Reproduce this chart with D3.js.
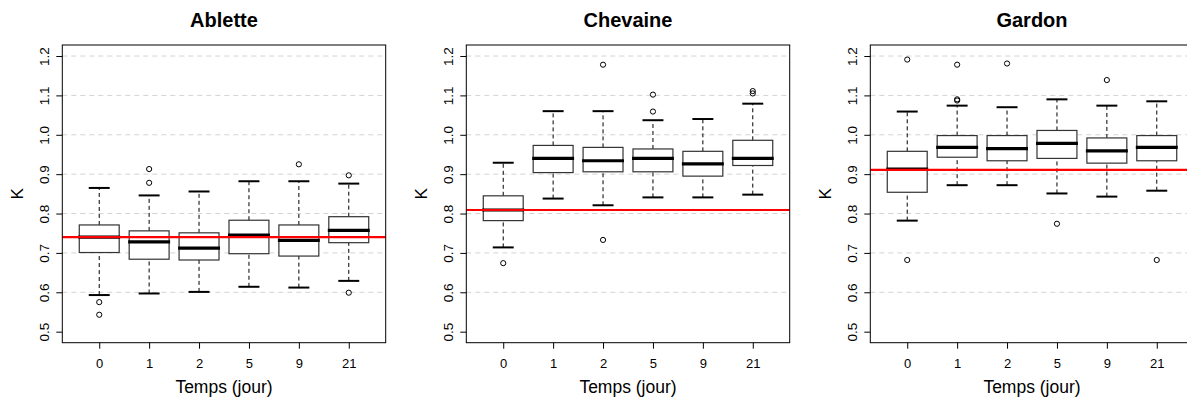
<!DOCTYPE html>
<html>
<head>
<meta charset="utf-8">
<script src="https://cdn.jsdelivr.net/npm/d3@7"></script>
<style>
  body { margin: 0; background: #fff; }
  svg { font-family: "Liberation Sans", Arial, sans-serif; }
</style>
</head>
<body>
<div id="chart"></div>
<script>
// days of sampling (x categories)
const days = ["0", "1", "2", "5", "9", "21"];
const species = ["Ablette", "Chevaine", "Gardon"];
const yTicks = [0.5, 0.6, 0.7, 0.8, 0.9, 1.0, 1.1, 1.2];
const gridTicks = [0.6, 0.7, 0.8, 0.9, 1.0, 1.1, 1.2];

// box stats per day: [lower whisker, Q1, median, Q3, upper whisker]
const ablette = [
    [0.593, 0.701, 0.740, 0.771, 0.865],
    [0.597, 0.684, 0.728, 0.756, 0.846],
    [0.601, 0.682, 0.712, 0.751, 0.856],
    [0.614, 0.698, 0.745, 0.783, 0.882],
    [0.612, 0.692, 0.732, 0.771, 0.882],
    [0.629, 0.726, 0.757, 0.792, 0.876]
];
const chevaine = [
    [0.714, 0.782, 0.809, 0.845, 0.929],
    [0.838, 0.904, 0.940, 0.973, 1.060],
    [0.821, 0.906, 0.934, 0.968, 1.060],
    [0.841, 0.906, 0.940, 0.964, 1.037],
    [0.841, 0.895, 0.926, 0.958, 1.040],
    [0.848, 0.922, 0.940, 0.986, 1.079]
];
const gardon = [
    [0.782, 0.854, 0.913, 0.958, 1.059],
    [0.872, 0.943, 0.968, 0.998, 1.074],
    [0.872, 0.934, 0.965, 0.998, 1.070],
    [0.851, 0.940, 0.978, 1.011, 1.090],
    [0.843, 0.928, 0.959, 0.992, 1.074],
    [0.858, 0.934, 0.968, 0.998, 1.085]
];

// outliers per day
const abletteOut = [[0.575, 0.543], [0.913, 0.878], [], [], [0.925], [0.897, 0.599]];
const chevaineOut = [[0.674], [], [1.178, 0.733], [1.102, 1.059], [], [1.111, 1.105]];
const gardonOut = [[1.191, 0.682], [1.178, 1.090, 1.087], [1.181], [0.774], [1.139], [0.682]];

// red reference line (K at day 0)
const refK = [0.740, 0.809, 0.911];

const stats = [ablette, chevaine, gardon];
const outliers = [abletteOut, chevaineOut, gardonOut];

const width = 1187, height = 399;
const panelStep = 404;
const plotW = 323.4, plotTop = 45, plotBottom = 342.7;

const svg = d3.select("#chart").append("svg")
    .attr("width", width)
    .attr("height", height);

const y = d3.scaleLinear().domain([0.472, 1.228]).range([plotBottom, plotTop]);

species.forEach((name, i) => {
    const left = 62.3 + panelStep * i;
    const x = d3.scalePoint().domain(days).range([left, left + plotW]).padding(0.74);
    const step = x.step();
    const bw = step * 0.8;
    const cw = step * 0.42;

    const g = svg.append("g");

    // dashed grid
    g.selectAll("line.grid")
        .data(gridTicks)
        .join("line")
        .attr("class", "grid")
        .attr("x1", left).attr("x2", left + plotW)
        .attr("y1", d => y(d)).attr("y2", d => y(d))
        .attr("stroke", "#d3d3d3")
        .attr("stroke-dasharray", "5,4");

    const rows = stats[i].map((s, j) => ({ day: days[j], s: s, out: outliers[i][j] }));
    const box = g.selectAll("g.box").data(rows).join("g").attr("class", "box");

    // whiskers
    box.append("line")
        .attr("x1", d => x(d.day)).attr("x2", d => x(d.day))
        .attr("y1", d => y(d.s[0])).attr("y2", d => y(d.s[1]))
        .attr("stroke", "#000").attr("stroke-dasharray", "4,3");
    box.append("line")
        .attr("x1", d => x(d.day)).attr("x2", d => x(d.day))
        .attr("y1", d => y(d.s[3])).attr("y2", d => y(d.s[4]))
        .attr("stroke", "#000").attr("stroke-dasharray", "4,3");

    // staples
    [0, 4].forEach(k => {
        box.append("line")
            .attr("x1", d => x(d.day) - cw / 2).attr("x2", d => x(d.day) + cw / 2)
            .attr("y1", d => y(d.s[k])).attr("y2", d => y(d.s[k]))
            .attr("stroke", "#000").attr("stroke-width", 2);
    });

    // boxes
    box.append("rect")
        .attr("x", d => x(d.day) - bw / 2)
        .attr("width", bw)
        .attr("y", d => y(d.s[3]))
        .attr("height", d => y(d.s[1]) - y(d.s[3]))
        .attr("fill", "#fff")
        .attr("stroke", "#333")
        .attr("stroke-width", 1.2);

    // medians
    box.append("line")
        .attr("x1", d => x(d.day) - bw / 2 - 1).attr("x2", d => x(d.day) + bw / 2 + 1)
        .attr("y1", d => y(d.s[2])).attr("y2", d => y(d.s[2]))
        .attr("stroke", "#000").attr("stroke-width", 3.2);

    // outliers
    box.selectAll("circle")
        .data(d => d.out.map(v => ({ day: d.day, v: v })))
        .join("circle")
        .attr("cx", d => x(d.day))
        .attr("cy", d => y(d.v))
        .attr("r", 2.6)
        .attr("fill", "none")
        .attr("stroke", "#000")
        .attr("stroke-width", 1);

    // reference line
    g.append("line")
        .attr("x1", left).attr("x2", left + plotW)
        .attr("y1", y(refK[i])).attr("y2", y(refK[i]))
        .attr("stroke", "#ff0000").attr("stroke-width", 2.2);

    // frame
    g.append("rect")
        .attr("x", left).attr("y", plotTop)
        .attr("width", plotW).attr("height", plotBottom - plotTop)
        .attr("fill", "none").attr("stroke", "#000").attr("stroke-width", 1);

    // y axis
    const ya = g.append("g")
        .attr("transform", `translate(${left},0)`)
        .call(d3.axisLeft(y).tickValues(yTicks).tickFormat(d3.format(".1f")).tickSize(6).tickSizeOuter(0));
    ya.select(".domain").remove();
    ya.selectAll("text")
        .attr("x", null).attr("dy", null)
        .attr("transform", "translate(-13,0) rotate(-90)")
        .attr("text-anchor", "middle")
        .attr("font-size", 13.5)
        .attr("font-family", "Liberation Sans, Arial, sans-serif")
        .attr("fill", "#000");

    // x axis
    const xa = g.append("g")
        .attr("transform", `translate(0,${plotBottom})`)
        .call(d3.axisBottom(x).tickSize(6).tickSizeOuter(0));
    xa.select(".domain").remove();
    xa.selectAll("text")
        .attr("y", 25).attr("dy", null)
        .attr("font-size", 13)
        .attr("font-family", "Liberation Sans, Arial, sans-serif")
        .attr("fill", "#000");

    // titles and axis labels
    const cx = left + plotW / 2;
    g.append("text")
        .attr("x", cx).attr("y", 27)
        .attr("text-anchor", "middle")
        .attr("font-weight", "bold")
        .attr("font-size", 20)
        .text(name);

    g.append("text")
        .attr("x", cx).attr("y", 393)
        .attr("text-anchor", "middle")
        .attr("font-size", 17.5)
        .text("Temps (jour)");

    g.append("text")
        .attr("transform", `translate(${left - 39},${(plotTop + plotBottom) / 2}) rotate(-90)`)
        .attr("text-anchor", "middle")
        .attr("font-size", 17)
        .text("K");
});
</script>
</body>
</html>
